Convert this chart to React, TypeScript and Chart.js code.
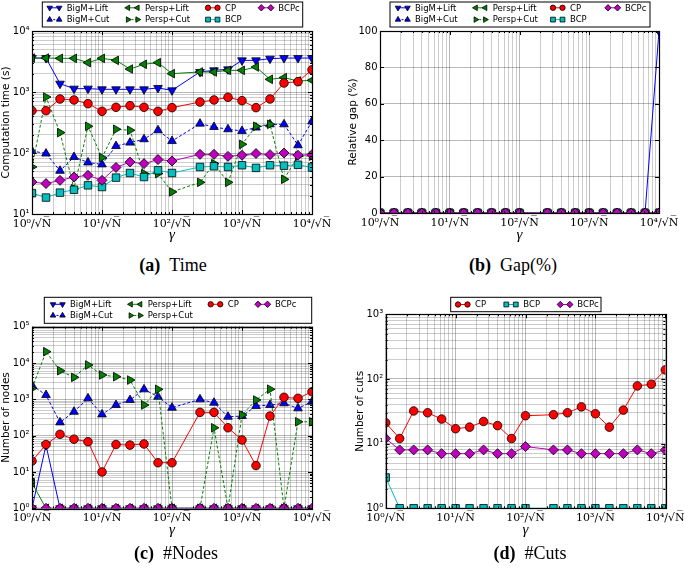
import React, { useEffect, useRef } from 'react';
import { Chart, registerables } from 'chart.js';
Chart.register(...registerables);

// x categories: gamma * sqrt(N)
const GAMMA = [1, 1.585, 2.512, 3.981, 6.31, 10, 15.85, 25.12, 39.81, 63.1, 100, 251.2, 398.1, 631, 1000, 1585, 2512, 3981, 6310, 10000];

// (a) computation time (s)
const TIME_BIGM_LIFT = [3600, 3600, 1370, 1135, 1135, 1107, 1107, 1107, 1107, 1165, 1065, 2130, 2265, 2350, 3300, 3300, 3520, 3600, 3600, 3600];
const TIME_BIGM_CUT = [108, 98, 51, 86, 70, 65, 130, 148, 168, 236, 157, 303, 267, 245, 230, 261, 295, 295, 134, 330];
const TIME_PERSP_LIFT = [3600, 3600, 3560, 3560, 3030, 3560, 3300, 2380, 2845, 3030, 2000, 2130, 2130, 2265, 2265, 2570, 1615, 1720, 1515, 1553];
const TIME_PERSP_CUT = [59, 828, 216, 26, 274, 84, 245, 236, 46, 46, 23, 33, 67, 33, 139, 274, 295, 37, 89, 89];
const TIME_CP = [494, 494, 768, 740, 644, 482, 561, 597, 561, 482, 554, 685, 740, 818, 721, 554, 768, 1405, 1477, 2320];
const TIME_BCP = [22, 18.6, 22.4, 25, 29.5, 27.7, 39.5, 47, 40.4, 52, 47, 59, 60.5, 59, 63, 57, 63, 62, 64, 58];
const TIME_BCPC = [33.5, 31.5, 35.6, 40.4, 43, 35.6, 58, 71, 67, 78, 74, 95, 95, 88, 92, 98, 94, 100, 92, 94];

// (b) relative gap (%)
const GAP_BIGM_LIFT = [0, 0, 0, 0, 0, 0, 0, 0, 0, 0, 0, 0, 0, 0, 0, 0, 0, 0, 0, 100];
const GAP_BIGM_CUT = [0, 0, 0, 0, 0, 0, 0, 0, 0, 0, 0, 0, 0, 0, 0, 0, 0, 0, 0, 0];
const GAP_PERSP_LIFT = [0, 0, 0, 0, 0, 0, 0, 0, 0, 0, 0, 0, 0, 0, 0, 0, 0, 0, 0, 0];
const GAP_PERSP_CUT = [0, 0, 0, 0, 0, 0, 0, 0, 0, 0, 0, 0, 0, 0, 0, 0, 0, 0, 0, 0];
const GAP_CP = [0, 0, 0, 0, 0, 0, 0, 0, 0, 0, 0, 0, 0, 0, 0, 0, 0, 0, 0, 0];
const GAP_BCP = [0, 0, 0, 0, 0, 0, 0, 0, 0, 0, 0, 0, 0, 0, 0, 0, 0, 0, 0, 0];
const GAP_BCPC = [0, 0, 0, 0, 0, 0, 0, 0, 0, 0, 0, 0, 0, 0, 0, 0, 0, 0, 0, 0];

// (c) number of nodes
const NODES_BIGM_LIFT = [1, 55, 1, 1, 1, 1, 1, 1, 1, 1, 1, 1, 1, 1, 1, 1, 1, 1, 1, 1];
const NODES_BIGM_CUT = [2460, 1313, 232, 455, 1065, 385, 697, 957, 1884, 1180, 588, 1000, 805, 332, 347, 653, 697, 777, 565, 860];
const NODES_PERSP_LIFT = [5, 1, 1, 1, 1, 1, 1, 1, 1, 1, 1, 1, 1, 1, 1, 1, 1, 1, 1, 1];
const NODES_PERSP_CUT = [2000, 20500, 6140, 4030, 8810, 4680, 4200, 3400, 697, 1884, 1, 1, 165, 1, 369, 957, 1900, 1, 241, 241];
const NODES_CP = [20, 57, 109, 80, 68, 10, 57, 55, 59, 18, 18, 438, 438, 165, 76, 15, 347, 1135, 1065, 1620];
const NODES_BCPC = [1, 1, 1, 1, 1, 1, 1, 1, 1, 1, 1, 1, 1, 1, 1, 1, 1, 1, 1, 1];

// (d) number of cuts
const CUTS_CP = [21, 12, 32, 30, 24, 17, 18, 22, 19, 12, 27, 28, 30, 37, 29, 18, 33, 78, 83, 138];
const CUTS_BCP = [3, 1, 1, 1, 1, 1, 1, 1, 1, 1, 1, 1, 1, 1, 1, 1, 1, 1, 1, 1];
const CUTS_BCPC = [12, 8, 8, 8, 7, 7, 7, 8, 7, 7, 9, 8, 8, 7, 7, 7, 7, 8, 7, 8];

const STYLE: Record<string, any> = {
  bigMLift: { label: 'BigM+Lift', color: '#0000ff', point: 'triangle', rot: 180, dash: [], r: 5, lr: 3.2, z: 0 },
  bigMCut: { label: 'BigM+Cut', color: '#0000ff', point: 'triangle', rot: 0, dash: [3, 2], r: 5, lr: 3.2, z: 1 },
  perspLift: { label: 'Persp+Lift', color: '#008000', point: 'triangle', rot: 270, dash: [], r: 5, lr: 3.2, z: 2 },
  perspCut: { label: 'Persp+Cut', color: '#008000', point: 'triangle', rot: 90, dash: [3, 2], r: 5, lr: 3.2, z: 3 },
  cp: { label: 'CP', color: '#ff0000', point: 'circle', rot: 0, dash: [], r: 4.3, lr: 2.7, z: 4 },
  bcp: { label: 'BCP', color: '#00bfbf', point: 'rect', rot: 0, dash: [], r: 5.3, lr: 3.4, z: 5 },
  bcpc: { label: 'BCPc', color: '#bf00bf', point: 'rectRot', rot: 0, dash: [], r: 5, lr: 3.2, z: 6 },
};

const SUP = ['\u2070', '\u00b9', '\u00b2', '\u00b3', '\u2074', '\u2075'];
const isPow10 = (v: number) => {
  const l = Math.log10(v);
  return Math.abs(l - Math.round(l)) < 1e-9;
};
const powLabel = (v: number) => '10' + SUP[Math.round(Math.log10(v))];

function logTickValues(min: number, max: number) {
  const out: number[] = [];
  const e0 = Math.round(Math.log10(min));
  const e1 = Math.round(Math.log10(max));
  for (let e = e0; e < e1; e++) for (let m = 1; m < 10; m++) out.push(m * Math.pow(10, e));
  out.push(max);
  return out;
}

function makeDataset(key: string, values: number[]) {
  const s = STYLE[key];
  return {
    label: s.label,
    styleKey: key,
    data: GAMMA.map((g, i) => ({ x: g, y: values[i] })),
    borderColor: s.color,
    backgroundColor: s.color,
    borderWidth: 1,
    borderDash: s.dash,
    pointStyle: s.point,
    pointRotation: s.rot,
    pointRadius: s.r,
    pointHoverRadius: s.r,
    pointBackgroundColor: s.color,
    pointBorderColor: '#000',
    pointBorderWidth: 0.8,
    tension: 0,
    clip: 0,
    order: 10 - s.z,
  };
}

function drawMarker(ctx: CanvasRenderingContext2D, style: string, rot: number, x: number, y: number, r: number, fill: string) {
  ctx.beginPath();
  if (style === 'circle') {
    ctx.arc(x, y, r, 0, Math.PI * 2);
  } else if (style === 'triangle') {
    let a = (rot * Math.PI) / 180;
    ctx.moveTo(x + Math.sin(a) * r, y - Math.cos(a) * r);
    a += (2 * Math.PI) / 3;
    ctx.lineTo(x + Math.sin(a) * r, y - Math.cos(a) * r);
    a += (2 * Math.PI) / 3;
    ctx.lineTo(x + Math.sin(a) * r, y - Math.cos(a) * r);
    ctx.closePath();
  } else if (style === 'rect') {
    const s = r * Math.SQRT1_2;
    ctx.rect(x - s, y - s, 2 * s, 2 * s);
  } else {
    ctx.moveTo(x - r, y);
    ctx.lineTo(x, y - r);
    ctx.lineTo(x + r, y);
    ctx.lineTo(x, y + r);
    ctx.closePath();
  }
  ctx.fillStyle = fill;
  ctx.fill();
  ctx.setLineDash([]);
  ctx.strokeStyle = '#000';
  ctx.lineWidth = 0.8;
  ctx.stroke();
}

const framePlugin = {
  id: 'frame',
  afterDatasetsDraw(chart: any) {
    const { ctx, chartArea, scales } = chart;
    const { left, right, top, bottom } = chartArea;
    ctx.save();
    ctx.strokeStyle = '#000';
    ctx.lineWidth = 1;
    ctx.setLineDash([]);
    ctx.beginPath();
    const xs = scales.x;
    const ys = scales.y;
    for (const t of xs.ticks) {
      const px = Math.round(xs.getPixelForValue(t.value)) + 0.5;
      const len = isPow10(t.value) ? 4 : 2;
      ctx.moveTo(px, bottom);
      ctx.lineTo(px, bottom - len);
      ctx.moveTo(px, top);
      ctx.lineTo(px, top + len);
    }
    const yLog = ys.type === 'logarithmic';
    for (const t of ys.ticks) {
      const py = Math.round(ys.getPixelForValue(t.value)) + 0.5;
      const len = !yLog || isPow10(t.value) ? 4 : 2;
      ctx.moveTo(left, py);
      ctx.lineTo(left + len, py);
      ctx.moveTo(right, py);
      ctx.lineTo(right - len, py);
    }
    ctx.stroke();
    ctx.lineWidth = 1.2;
    ctx.strokeRect(Math.round(left) + 0.5, Math.round(top) + 0.5, Math.round(right - left), Math.round(bottom - top));
    ctx.restore();
  },
};

type LegendItem = { ds: number; tx: number; y: number };
type LegendCfg = { box: { x: number; y: number; w: number; h: number }; items: LegendItem[] };

function makeLegendPlugin(cfg: LegendCfg) {
  return {
    id: 'plegend',
    afterDraw(chart: any) {
      const ctx = chart.ctx as CanvasRenderingContext2D;
      const { box, items } = cfg;
      ctx.save();
      ctx.fillStyle = '#fff';
      ctx.fillRect(box.x, box.y, box.w, box.h);
      ctx.strokeStyle = '#000';
      ctx.lineWidth = 1;
      ctx.strokeRect(box.x, box.y, box.w, box.h);
      ctx.font = '8.5px "DejaVu Sans"';
      ctx.textBaseline = 'middle';
      ctx.textAlign = 'left';
      for (const it of items) {
        const d = chart.data.datasets[it.ds];
        const s = STYLE[d.styleKey];
        const m1 = it.tx - 17;
        const m2 = it.tx - 7.5;
        ctx.beginPath();
        ctx.setLineDash(s.dash.length ? [2, 1.5] : []);
        ctx.strokeStyle = s.color;
        ctx.lineWidth = 1;
        ctx.moveTo(m1, it.y);
        ctx.lineTo(m2, it.y);
        ctx.stroke();
        drawMarker(ctx, s.point, s.rot, m1, it.y, s.lr, s.color);
        drawMarker(ctx, s.point, s.rot, m2, it.y, s.lr, s.color);
        ctx.fillStyle = '#000';
        ctx.fillText(s.label, it.tx, it.y + 0.5);
      }
      ctx.restore();
    },
  };
}

const GRID_MINOR = 'rgba(0,0,0,0.2)';
const GRID_MAJOR = 'rgba(0,0,0,0.28)';

type PanelSpec = {
  datasets: any[];
  yLog: boolean;
  yMin: number;
  yMax: number;
  yTitle: string;
  yTitlePad: number;
  padding: { left: number; right: number; top: number; bottom: number };
  yW: number;
  xH: number;
  legend: LegendCfg;
};

function buildConfig(p: PanelSpec): any {
  const xTicks = logTickValues(1, 10000);
  const yScale: any = p.yLog
    ? {
        type: 'logarithmic',
        min: p.yMin,
        max: p.yMax,
        afterBuildTicks: (s: any) => {
          s.ticks = logTickValues(p.yMin, p.yMax).map((v) => ({ value: v, major: isPow10(v) }));
        },
        ticks: {
          autoSkip: false,
          padding: 2.5,
          color: '#000',
          font: { family: 'DejaVu Sans', size: 10 },
          callback: (v: number) => (isPow10(v) ? powLabel(v) : ''),
        },
        grid: {
          drawTicks: false,
          color: (c: any) => (c.tick && isPow10(c.tick.value) ? GRID_MAJOR : GRID_MINOR),
          lineWidth: 1,
        },
      }
    : {
        type: 'linear',
        min: p.yMin,
        max: p.yMax,
        ticks: {
          stepSize: 20,
          padding: 2.5,
          color: '#000',
          font: { family: 'DejaVu Sans', size: 10 },
        },
        grid: { drawTicks: false, color: GRID_MAJOR, lineWidth: 1 },
      };
  yScale.border = { display: false };
  yScale.title = {
    display: true,
    text: p.yTitle,
    color: '#000',
    font: { family: 'DejaVu Sans', size: 10.5 },
    padding: { top: p.yTitlePad, bottom: 0 },
  };
  yScale.afterFit = (s: any) => {
    s.width = p.yW;
    s.paddingTop = 0;
    s.paddingBottom = 0;
  };

  return {
    type: 'line',
    data: { datasets: p.datasets },
    options: {
      animation: false,
      responsive: false,
      devicePixelRatio: 1,
      events: [],
      layout: { padding: p.padding },
      plugins: { legend: { display: false }, tooltip: { enabled: false }, title: { display: false } },
      scales: {
        x: {
          type: 'logarithmic',
          min: 1,
          max: 10000,
          afterBuildTicks: (s: any) => {
            s.ticks = xTicks.map((v) => ({ value: v, major: isPow10(v) }));
          },
          afterFit: (s: any) => {
            s.height = p.xH;
            s.paddingLeft = 0;
            s.paddingRight = 0;
          },
          border: { display: false },
          grid: {
            drawTicks: false,
            color: (c: any) => (c.tick && isPow10(c.tick.value) ? GRID_MAJOR : GRID_MINOR),
            lineWidth: 1,
          },
          ticks: {
            autoSkip: false,
            maxRotation: 0,
            minRotation: 0,
            padding: 3.5,
            color: '#000',
            font: { family: 'DejaVu Serif', size: 11 },
            callback: (v: number) => (isPow10(v) ? powLabel(v) + '/\u221aN\u0305' : ''),
          },
          title: {
            display: true,
            text: '\u03b3',
            color: '#000',
            font: { family: 'Liberation Serif', size: 15, style: 'italic' },
            padding: { top: 0, bottom: 5.5 },
          },
        },
        y: yScale,
      },
    },
    plugins: [framePlugin, makeLegendPlugin(p.legend)],
  };
}

// ---------- panel specs ----------
function specA(): PanelSpec {
  const datasets = [
    makeDataset('bigMLift', TIME_BIGM_LIFT),
    makeDataset('bigMCut', TIME_BIGM_CUT),
    makeDataset('perspLift', TIME_PERSP_LIFT),
    makeDataset('perspCut', TIME_PERSP_CUT),
    makeDataset('cp', TIME_CP),
    makeDataset('bcp', TIME_BCP),
    makeDataset('bcpc', TIME_BCPC),
  ];
  return {
    datasets,
    yLog: true,
    yMin: 10,
    yMax: 10000,
    yTitle: 'Computation time (s)',
    yTitlePad: 0,
    padding: { left: 0, right: 30, top: 31, bottom: 0 },
    yW: 32,
    xH: 36,
    legend: {
      box: { x: 42.3, y: 2, w: 260.4, h: 25 },
      items: [
        { ds: 0, tx: 66.7, y: 7.8 },
        { ds: 1, tx: 66.7, y: 19.6 },
        { ds: 2, tx: 145, y: 7.8 },
        { ds: 3, tx: 145, y: 19.6 },
        { ds: 4, tx: 225, y: 7.8 },
        { ds: 5, tx: 225, y: 19.6 },
        { ds: 6, tx: 278.3, y: 7.8 },
      ],
    },
  };
}

function specB(): PanelSpec {
  const datasets = [
    makeDataset('bigMLift', GAP_BIGM_LIFT),
    makeDataset('bigMCut', GAP_BIGM_CUT),
    makeDataset('perspLift', GAP_PERSP_LIFT),
    makeDataset('perspCut', GAP_PERSP_CUT),
    makeDataset('cp', GAP_CP),
    makeDataset('bcp', GAP_BCP),
    makeDataset('bcpc', GAP_BCPC),
  ];
  return {
    datasets,
    yLog: false,
    yMin: 0,
    yMax: 100,
    yTitle: 'Relative gap (%)',
    yTitlePad: 4.7,
    padding: { left: 0, right: 26, top: 31, bottom: 0 },
    yW: 38,
    xH: 37,
    legend: {
      box: { x: 48, y: 2, w: 260, h: 25 },
      items: [
        { ds: 0, tx: 73, y: 7.8 },
        { ds: 1, tx: 73, y: 19.6 },
        { ds: 2, tx: 150.7, y: 7.8 },
        { ds: 3, tx: 150.7, y: 19.6 },
        { ds: 4, tx: 228, y: 7.8 },
        { ds: 5, tx: 228, y: 19.6 },
        { ds: 6, tx: 283, y: 7.8 },
      ],
    },
  };
}

function specC(): PanelSpec {
  const datasets = [
    makeDataset('bigMLift', NODES_BIGM_LIFT),
    makeDataset('bigMCut', NODES_BIGM_CUT),
    makeDataset('perspLift', NODES_PERSP_LIFT),
    makeDataset('perspCut', NODES_PERSP_CUT),
    makeDataset('cp', NODES_CP),
    makeDataset('bcpc', NODES_BCPC),
  ];
  return {
    datasets,
    yLog: true,
    yMin: 1,
    yMax: 100000,
    yTitle: 'Number of nodes',
    yTitlePad: 0,
    padding: { left: 0, right: 30, top: 41.7, bottom: 0 },
    yW: 32,
    xH: 36.7,
    legend: {
      box: { x: 44.3, y: 12.3, w: 267.4, h: 26 },
      items: [
        { ds: 0, tx: 70, y: 19.3 },
        { ds: 1, tx: 70, y: 30.5 },
        { ds: 2, tx: 147.7, y: 19.3 },
        { ds: 3, tx: 147.7, y: 30.5 },
        { ds: 4, tx: 227.7, y: 19.3 },
        { ds: 5, tx: 275, y: 19.3 },
      ],
    },
  };
}

function specD(): PanelSpec {
  const datasets = [makeDataset('cp', CUTS_CP), makeDataset('bcp', CUTS_BCP), makeDataset('bcpc', CUTS_BCPC)];
  return {
    datasets,
    yLog: true,
    yMin: 1,
    yMax: 1000,
    yTitle: 'Number of cuts',
    yTitlePad: 11.7,
    padding: { left: 0, right: 19.7, top: 29.3, bottom: 0 },
    yW: 43.7,
    xH: 36.7,
    legend: {
      box: { x: 108.7, y: 12.3, w: 150.3, h: 14.4 },
      items: [
        { ds: 0, tx: 133, y: 19.5 },
        { ds: 1, tx: 181.3, y: 19.5 },
        { ds: 2, tx: 235.3, y: 19.5 },
      ],
    },
  };
}

function Panel({ spec, left, top, width, height }: { spec: () => PanelSpec; left: number; top: number; width: number; height: number }) {
  const ref = useRef<HTMLCanvasElement | null>(null);
  useEffect(() => {
    if (!ref.current) return;
    const chart = new Chart(ref.current, buildConfig(spec()));
    return () => chart.destroy();
  }, []);
  return (
    <canvas
      ref={ref}
      width={width}
      height={height}
      style={{ position: 'absolute', left, top, width, height, display: 'block' }}
    />
  );
}

function Caption({ cx, cy, tag, text }: { cx: number; cy: number; tag: string; text: string }) {
  return (
    <div
      style={{
        position: 'absolute',
        left: cx,
        top: cy,
        transform: 'translate(-50%, -50%)',
        fontFamily: '"Liberation Serif", serif',
        fontSize: 18,
        whiteSpace: 'nowrap',
        color: '#000',
      }}
    >
      <b>{tag}</b>
      {'\u00a0\u00a0' + text}
    </div>
  );
}

export default function App() {
  return (
    <div style={{ position: 'absolute', left: 0, top: 0, width: 685, height: 570, background: '#fff', overflow: 'hidden' }}>
      <Panel spec={specA} left={0} top={0} width={342} height={250} />
      <Panel spec={specB} left={342} top={0} width={343} height={250} />
      <Panel spec={specC} left={0} top={285} width={342} height={260} />
      <Panel spec={specD} left={342} top={285} width={343} height={260} />
      <Caption cx={173} cy={265} tag="(a)" text="Time" />
      <Caption cx={513} cy={265} tag="(b)" text="Gap(%)" />
      <Caption cx={176} cy={553} tag="(c)" text="#Nodes" />
      <Caption cx={530} cy={553} tag="(d)" text="#Cuts" />
    </div>
  );
}
